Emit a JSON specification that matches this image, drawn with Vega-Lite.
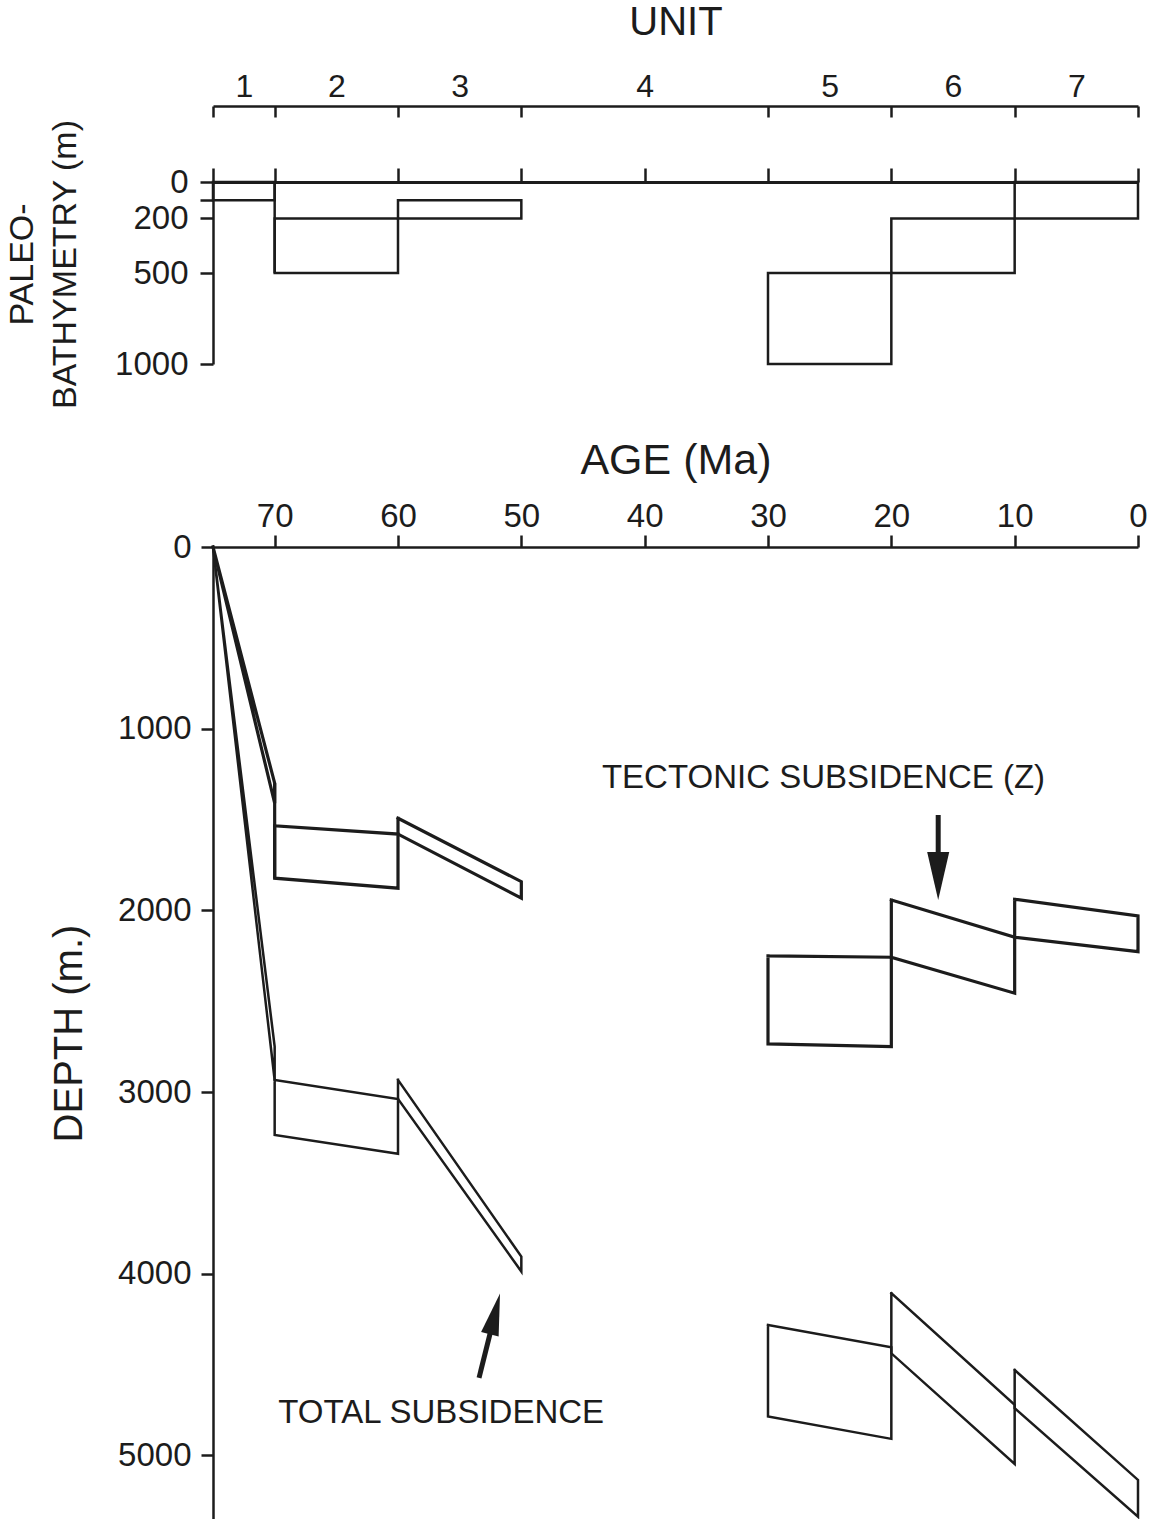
{
  "$schema": "https://vega.github.io/schema/vega-lite/v6.json",
  "background": "white",
  "padding": {"left": 5, "top": 2, "right": 5, "bottom": 0},
  "bounds": "flush",
  "spacing": 183,
  "config": {
    "view": {"stroke": null},
    "font": "Liberation Sans",
    "axis": {
      "domainColor": "#1c1c1c", "tickColor": "#1c1c1c", "labelColor": "#1c1c1c", "titleColor": "#1c1c1c",
      "domainWidth": 2.5, "tickWidth": 2.5, "grid": false,
      "labelFont": "Liberation Sans", "titleFont": "Liberation Sans", "titleFontWeight": "normal",
      "labelFontSize": 33, "labelFlush": false, "labelOverlap": false, "titleLimit": 2000
    }
  },
  "datasets": {
    "bathymetry": [
      {"unit": 1, "age_old": 75, "age_young": 70, "bathy_min": 0, "bathy_max": 100},
      {"unit": 2, "age_old": 70, "age_young": 60, "bathy_min": 200, "bathy_max": 500},
      {"unit": 3, "age_old": 60, "age_young": 50, "bathy_min": 100, "bathy_max": 200},
      {"unit": 5, "age_old": 30, "age_young": 20, "bathy_min": 500, "bathy_max": 1000},
      {"unit": 6, "age_old": 20, "age_young": 10, "bathy_min": 200, "bathy_max": 500},
      {"unit": 7, "age_old": 10, "age_young": 0, "bathy_min": 0, "bathy_max": 200}
    ],
    "bathy_links": [
      {"age": 70, "from": 0, "to": 500}
    ],
    "subsidence": [
      {"curve": "tectonic", "poly": "T1", "seq": 1, "age": 75, "depth": 0},
      {"curve": "tectonic", "poly": "T1", "seq": 2, "age": 70, "depth": 1300},
      {"curve": "tectonic", "poly": "T1", "seq": 3, "age": 70, "depth": 1410},
      {"curve": "tectonic", "poly": "T1", "seq": 4, "age": 75, "depth": 0},
      {"curve": "tectonic", "poly": "T2", "seq": 1, "age": 70, "depth": 1535},
      {"curve": "tectonic", "poly": "T2", "seq": 2, "age": 60, "depth": 1580},
      {"curve": "tectonic", "poly": "T2", "seq": 3, "age": 60, "depth": 1878},
      {"curve": "tectonic", "poly": "T2", "seq": 4, "age": 70, "depth": 1823},
      {"curve": "tectonic", "poly": "T2", "seq": 5, "age": 70, "depth": 1535},
      {"curve": "tectonic", "poly": "T3", "seq": 1, "age": 60, "depth": 1493},
      {"curve": "tectonic", "poly": "T3", "seq": 2, "age": 50, "depth": 1842},
      {"curve": "tectonic", "poly": "T3", "seq": 3, "age": 50, "depth": 1933},
      {"curve": "tectonic", "poly": "T3", "seq": 4, "age": 60, "depth": 1580},
      {"curve": "tectonic", "poly": "T3", "seq": 5, "age": 60, "depth": 1493},
      {"curve": "tectonic", "poly": "T5", "seq": 1, "age": 30, "depth": 2251},
      {"curve": "tectonic", "poly": "T5", "seq": 2, "age": 20, "depth": 2258},
      {"curve": "tectonic", "poly": "T5", "seq": 3, "age": 20, "depth": 2750},
      {"curve": "tectonic", "poly": "T5", "seq": 4, "age": 30, "depth": 2735},
      {"curve": "tectonic", "poly": "T5", "seq": 5, "age": 30, "depth": 2251},
      {"curve": "tectonic", "poly": "T6", "seq": 1, "age": 20, "depth": 1943},
      {"curve": "tectonic", "poly": "T6", "seq": 2, "age": 10, "depth": 2148},
      {"curve": "tectonic", "poly": "T6", "seq": 3, "age": 10, "depth": 2456},
      {"curve": "tectonic", "poly": "T6", "seq": 4, "age": 20, "depth": 2258},
      {"curve": "tectonic", "poly": "T6", "seq": 5, "age": 20, "depth": 1943},
      {"curve": "tectonic", "poly": "T7", "seq": 1, "age": 10, "depth": 1939},
      {"curve": "tectonic", "poly": "T7", "seq": 2, "age": 0, "depth": 2031},
      {"curve": "tectonic", "poly": "T7", "seq": 3, "age": 0, "depth": 2227},
      {"curve": "tectonic", "poly": "T7", "seq": 4, "age": 10, "depth": 2148},
      {"curve": "tectonic", "poly": "T7", "seq": 5, "age": 10, "depth": 1939},
      {"curve": "total", "poly": "S1", "seq": 1, "age": 75, "depth": 0},
      {"curve": "total", "poly": "S1", "seq": 2, "age": 70, "depth": 2750},
      {"curve": "total", "poly": "S1", "seq": 3, "age": 70, "depth": 2935},
      {"curve": "total", "poly": "S1", "seq": 4, "age": 75, "depth": 0},
      {"curve": "total", "poly": "S2", "seq": 1, "age": 70, "depth": 2933},
      {"curve": "total", "poly": "S2", "seq": 2, "age": 60, "depth": 3038},
      {"curve": "total", "poly": "S2", "seq": 3, "age": 60, "depth": 3340},
      {"curve": "total", "poly": "S2", "seq": 4, "age": 70, "depth": 3236},
      {"curve": "total", "poly": "S2", "seq": 5, "age": 70, "depth": 2933},
      {"curve": "total", "poly": "S3", "seq": 1, "age": 60, "depth": 2933},
      {"curve": "total", "poly": "S3", "seq": 2, "age": 50, "depth": 3906},
      {"curve": "total", "poly": "S3", "seq": 3, "age": 50, "depth": 3988},
      {"curve": "total", "poly": "S3", "seq": 4, "age": 60, "depth": 3038},
      {"curve": "total", "poly": "S3", "seq": 5, "age": 60, "depth": 2933},
      {"curve": "total", "poly": "S5", "seq": 1, "age": 30, "depth": 4282},
      {"curve": "total", "poly": "S5", "seq": 2, "age": 20, "depth": 4405},
      {"curve": "total", "poly": "S5", "seq": 3, "age": 20, "depth": 4909},
      {"curve": "total", "poly": "S5", "seq": 4, "age": 30, "depth": 4786},
      {"curve": "total", "poly": "S5", "seq": 5, "age": 30, "depth": 4282},
      {"curve": "total", "poly": "S6", "seq": 1, "age": 20, "depth": 4107},
      {"curve": "total", "poly": "S6", "seq": 2, "age": 10, "depth": 4722},
      {"curve": "total", "poly": "S6", "seq": 3, "age": 10, "depth": 5047},
      {"curve": "total", "poly": "S6", "seq": 4, "age": 20, "depth": 4438},
      {"curve": "total", "poly": "S6", "seq": 5, "age": 20, "depth": 4107},
      {"curve": "total", "poly": "S7", "seq": 1, "age": 10, "depth": 4530},
      {"curve": "total", "poly": "S7", "seq": 2, "age": 0, "depth": 5135},
      {"curve": "total", "poly": "S7", "seq": 3, "age": 0, "depth": 5337},
      {"curve": "total", "poly": "S7", "seq": 4, "age": 10, "depth": 4740},
      {"curve": "total", "poly": "S7", "seq": 5, "age": 10, "depth": 4530}
    ],
    "links": [
      {"age": 70, "from": 1300, "to": 1823}
    ],
    "labels": [
      {"label": "TECTONIC SUBSIDENCE (Z)", "age": 25.5, "depth": 1271},
      {"label": "TOTAL SUBSIDENCE", "age": 56.5, "depth": 4766}
    ],
    "shafts": [
      {"arrow": "tectonic", "age": 16.2, "depth": 1475, "age_end": 16.2, "depth_end": 1712},
      {"arrow": "total", "age": 53.43, "depth": 4573, "age_end": 52.46, "depth_end": 4309}
    ],
    "heads": [
      {"arrow": "tectonic", "age": 16.2, "depth": 1811},
      {"arrow": "total", "age": 52.14, "depth": 4221}
    ]
  },
  "vconcat": [
    {
      "width": 925,
      "height": 182,
      "resolve": {"axis": {"x": "independent"}},
      "layer": [
        {
          "data": {"name": "bathymetry"},
          "transform": [{"filter": "datum.unit <= 3"}],
          "mark": {"type": "rect", "filled": false, "color": "#1c1c1c", "strokeWidth": 2.5},
          "encoding": {
            "x": {
              "field": "age_old", "type": "quantitative",
              "scale": {"domain": [0, 75], "reverse": true, "nice": false, "zero": false},
              "axis": {"orient": "top", "values": [75, 70, 60, 50, 40, 30, 20, 10, 0], "labels": false, "tickSize": 14, "domainWidth": 3, "title": null}
            },
            "x2": {"field": "age_young"},
            "y": {
              "field": "bathy_min", "type": "quantitative",
              "scale": {"domain": [0, 1000], "reverse": true, "nice": false, "zero": false},
              "axis": {
                "orient": "left", "values": [0, 100, 200, 500, 1000], "format": "d",
                "labelExpr": "datum.value == 100 ? '' : datum.label",
                "tickSize": 13, "labelPadding": 12, "labelFontSize": 33,
                "title": ["PALEO-", "BATHYMETRY (m)"], "titleFontSize": 34, "titleLineHeight": 43, "titlePadding": 32, "titleY": 82
              }
            },
            "y2": {"field": "bathy_max"}
          }
        },
        {
          "data": {"name": "bathy_links"},
          "mark": {"type": "rule", "color": "#1c1c1c", "strokeWidth": 2.5},
          "encoding": {
            "x": {
              "field": "age", "type": "quantitative",
              "axis": {"orient": "top", "offset": 76, "values": [75, 70, 60, 50, 30, 20, 10, 0], "labels": false, "tickSize": -11, "title": null}
            },
            "y": {
              "field": "from", "type": "quantitative",
              "axis": {
                "orient": "left", "values": [0, 100, 200, 500, 1000], "format": "d",
                "labelExpr": "datum.value == 100 ? '' : datum.label",
                "tickSize": 13, "labelPadding": 12, "labelFontSize": 33,
                "title": ["PALEO-", "BATHYMETRY (m)"], "titleFontSize": 34, "titleLineHeight": 43, "titlePadding": 32, "titleY": 82
              }
            },
            "y2": {"field": "to"}
          }
        },
        {
          "data": {"name": "bathymetry"},
          "transform": [{"filter": "datum.unit >= 5"}],
          "mark": {"type": "rect", "filled": false, "color": "#1c1c1c", "strokeWidth": 2.5},
          "encoding": {
            "x": {
              "field": "age_old", "type": "quantitative",
              "axis": {
                "orient": "top", "offset": 76, "values": [72.5, 65, 55, 40, 25, 15, 5],
                "labelExpr": "'' + (indexof([72.5, 65, 55, 40, 25, 15, 5], datum.value) + 1)",
                "ticks": false, "tickSize": 0, "domain": false, "labelPadding": 3, "labelFontSize": 32,
                "title": "UNIT", "titleFontSize": 40, "titlePadding": 28
              }
            },
            "x2": {"field": "age_young"},
            "y": {
              "field": "bathy_min", "type": "quantitative",
              "axis": {
                "orient": "left", "values": [0, 100, 200, 500, 1000], "format": "d",
                "labelExpr": "datum.value == 100 ? '' : datum.label",
                "tickSize": 13, "labelPadding": 12, "labelFontSize": 33,
                "title": ["PALEO-", "BATHYMETRY (m)"], "titleFontSize": 34, "titleLineHeight": 43, "titlePadding": 32, "titleY": 82
              }
            },
            "y2": {"field": "bathy_max"}
          }
        }
      ]
    },
    {
      "width": 925,
      "height": 972,
      "layer": [
        {
          "data": {"name": "subsidence"},
          "transform": [{"filter": "datum.curve == 'tectonic'"}],
          "mark": {"type": "line", "color": "#1c1c1c", "strokeWidth": 3.2, "strokeCap": "square", "strokeJoin": "miter"},
          "encoding": {
            "x": {
              "field": "age", "type": "quantitative",
              "scale": {"domain": [0, 75], "reverse": true, "nice": false, "zero": false},
              "axis": {
                "orient": "top", "values": [70, 60, 50, 40, 30, 20, 10, 0],
                "tickSize": 12, "labelPadding": 2, "labelFontSize": 33,
                "title": "AGE (Ma)", "titleFontSize": 43, "titlePadding": 18
              }
            },
            "y": {
              "field": "depth", "type": "quantitative",
              "scale": {"domain": [0, 5350], "reverse": true, "nice": false, "zero": false},
              "axis": {
                "orient": "left", "values": [0, 1000, 2000, 3000, 4000, 5000], "format": "d",
                "tickSize": 12, "labelPadding": 10, "labelFontSize": 33,
                "title": "DEPTH (m.)", "titleFontSize": 40, "titlePadding": 28
              }
            },
            "detail": {"field": "poly", "type": "nominal"},
            "order": {"field": "seq", "type": "quantitative"}
          }
        },
        {
          "data": {"name": "subsidence"},
          "transform": [{"filter": "datum.curve == 'total'"}],
          "mark": {"type": "line", "color": "#1c1c1c", "strokeWidth": 2.5, "strokeCap": "square", "strokeJoin": "miter"},
          "encoding": {
            "x": {"field": "age", "type": "quantitative"},
            "y": {"field": "depth", "type": "quantitative"},
            "detail": {"field": "poly", "type": "nominal"},
            "order": {"field": "seq", "type": "quantitative"}
          }
        },
        {
          "data": {"name": "links"},
          "mark": {"type": "rule", "color": "#1c1c1c", "strokeWidth": 3.2},
          "encoding": {
            "x": {"field": "age", "type": "quantitative"},
            "y": {"field": "from", "type": "quantitative"},
            "y2": {"field": "to"}
          }
        },
        {
          "data": {"name": "shafts"},
          "mark": {"type": "rule", "color": "#1c1c1c", "strokeWidth": 5},
          "encoding": {
            "x": {"field": "age", "type": "quantitative"},
            "x2": {"field": "age_end"},
            "y": {"field": "depth", "type": "quantitative"},
            "y2": {"field": "depth_end"}
          }
        },
        {
          "data": {"name": "heads"},
          "transform": [{"filter": "datum.arrow == 'tectonic'"}],
          "mark": {"type": "point", "filled": true, "color": "#1c1c1c", "opacity": 1, "size": 2304, "shape": "M-0.46,-1L0.46,-1L0,1Z"},
          "encoding": {
            "x": {"field": "age", "type": "quantitative"},
            "y": {"field": "depth", "type": "quantitative"}
          }
        },
        {
          "data": {"name": "heads"},
          "transform": [{"filter": "datum.arrow == 'total'"}],
          "mark": {"type": "point", "filled": true, "color": "#1c1c1c", "opacity": 1, "size": 1764, "angle": 14, "shape": "M-0.43,1L0.43,1L0,-1Z"},
          "encoding": {
            "x": {"field": "age", "type": "quantitative"},
            "y": {"field": "depth", "type": "quantitative"}
          }
        },
        {
          "data": {"name": "labels"},
          "mark": {"type": "text", "color": "#1c1c1c", "fontSize": 33, "font": "Liberation Sans", "align": "center", "baseline": "middle"},
          "encoding": {
            "x": {"field": "age", "type": "quantitative"},
            "y": {"field": "depth", "type": "quantitative"},
            "text": {"field": "label", "type": "nominal"}
          }
        }
      ]
    }
  ]
}
